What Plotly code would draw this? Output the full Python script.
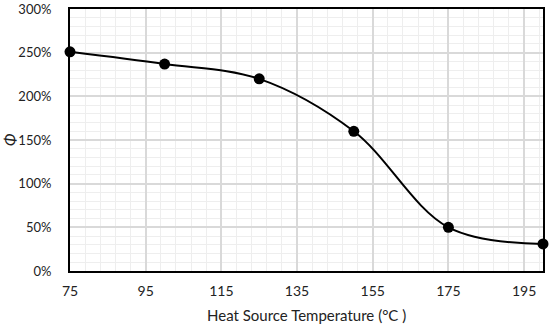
import plotly.graph_objects as go

temperature = [75, 100, 125, 150, 175, 200]
phi_percent = [251, 237, 220, 160, 50, 31]
x_ticks = [75, 95, 115, 135, 155, 175, 195]
y_ticks = [0, 50, 100, 150, 200, 250, 300]
y_tick_labels = [f"{v}%" for v in y_ticks]
x_title = "Heat Source Temperature (°C )"
y_title = "<i>Φ</i>"

font_family = "Lato, Open Sans, sans-serif"

fig = go.Figure()
fig.add_trace(go.Scatter(
    x=temperature, y=phi_percent,
    mode="lines+markers",
    line=dict(color="black", width=2, shape="spline", smoothing=1.0),
    marker=dict(color="black", size=11),
    cliponaxis=False,
    showlegend=False,
))

fig.update_layout(
    width=550, height=326,
    margin=dict(l=70, r=7, t=9, b=55, autoexpand=False),
    paper_bgcolor="white", plot_bgcolor="white",
    font=dict(family=font_family, color="#222", size=14),
    annotations=[
        dict(text=x_title, xref="paper", yref="paper", x=0.5, y=-0.168,
             yanchor="middle", xanchor="center", showarrow=False,
             font=dict(size=15)),
        dict(text=y_title, xref="paper", yref="paper", x=-0.129, y=0.5,
             yanchor="middle", xanchor="center", showarrow=False,
             textangle=-90, font=dict(size=16)),
    ],
)
fig.update_xaxes(
    range=[75, 200], tickvals=x_ticks, ticktext=[str(v) for v in x_ticks],
    showgrid=True, gridcolor="#d9d9d9", gridwidth=1.5,
    minor=dict(dtick=4, tick0=75, showgrid=True, gridcolor="#eeeeee", gridwidth=1),
    showline=True, linecolor="black", linewidth=2, mirror=True,
    ticks="", zeroline=False, automargin=False, ticklabelstandoff=6,
    ticklabeloverflow="allow",
    tickfont=dict(size=14),
)
fig.update_yaxes(
    range=[0, 300], tickvals=y_ticks, ticktext=y_tick_labels,
    showgrid=True, gridcolor="#d9d9d9", gridwidth=1.5,
    minor=dict(dtick=10, showgrid=True, gridcolor="#eeeeee", gridwidth=1),
    showline=True, linecolor="black", linewidth=2, mirror=True,
    ticks="", zeroline=False, automargin=False, ticklabelstandoff=14,
    ticklabeloverflow="allow",
    tickfont=dict(size=13),
)

fig.write_html(
    "out.html",
    config={"displayModeBar": False},
    post_script="document.body.style.margin='0';document.body.style.padding='0';",
)
